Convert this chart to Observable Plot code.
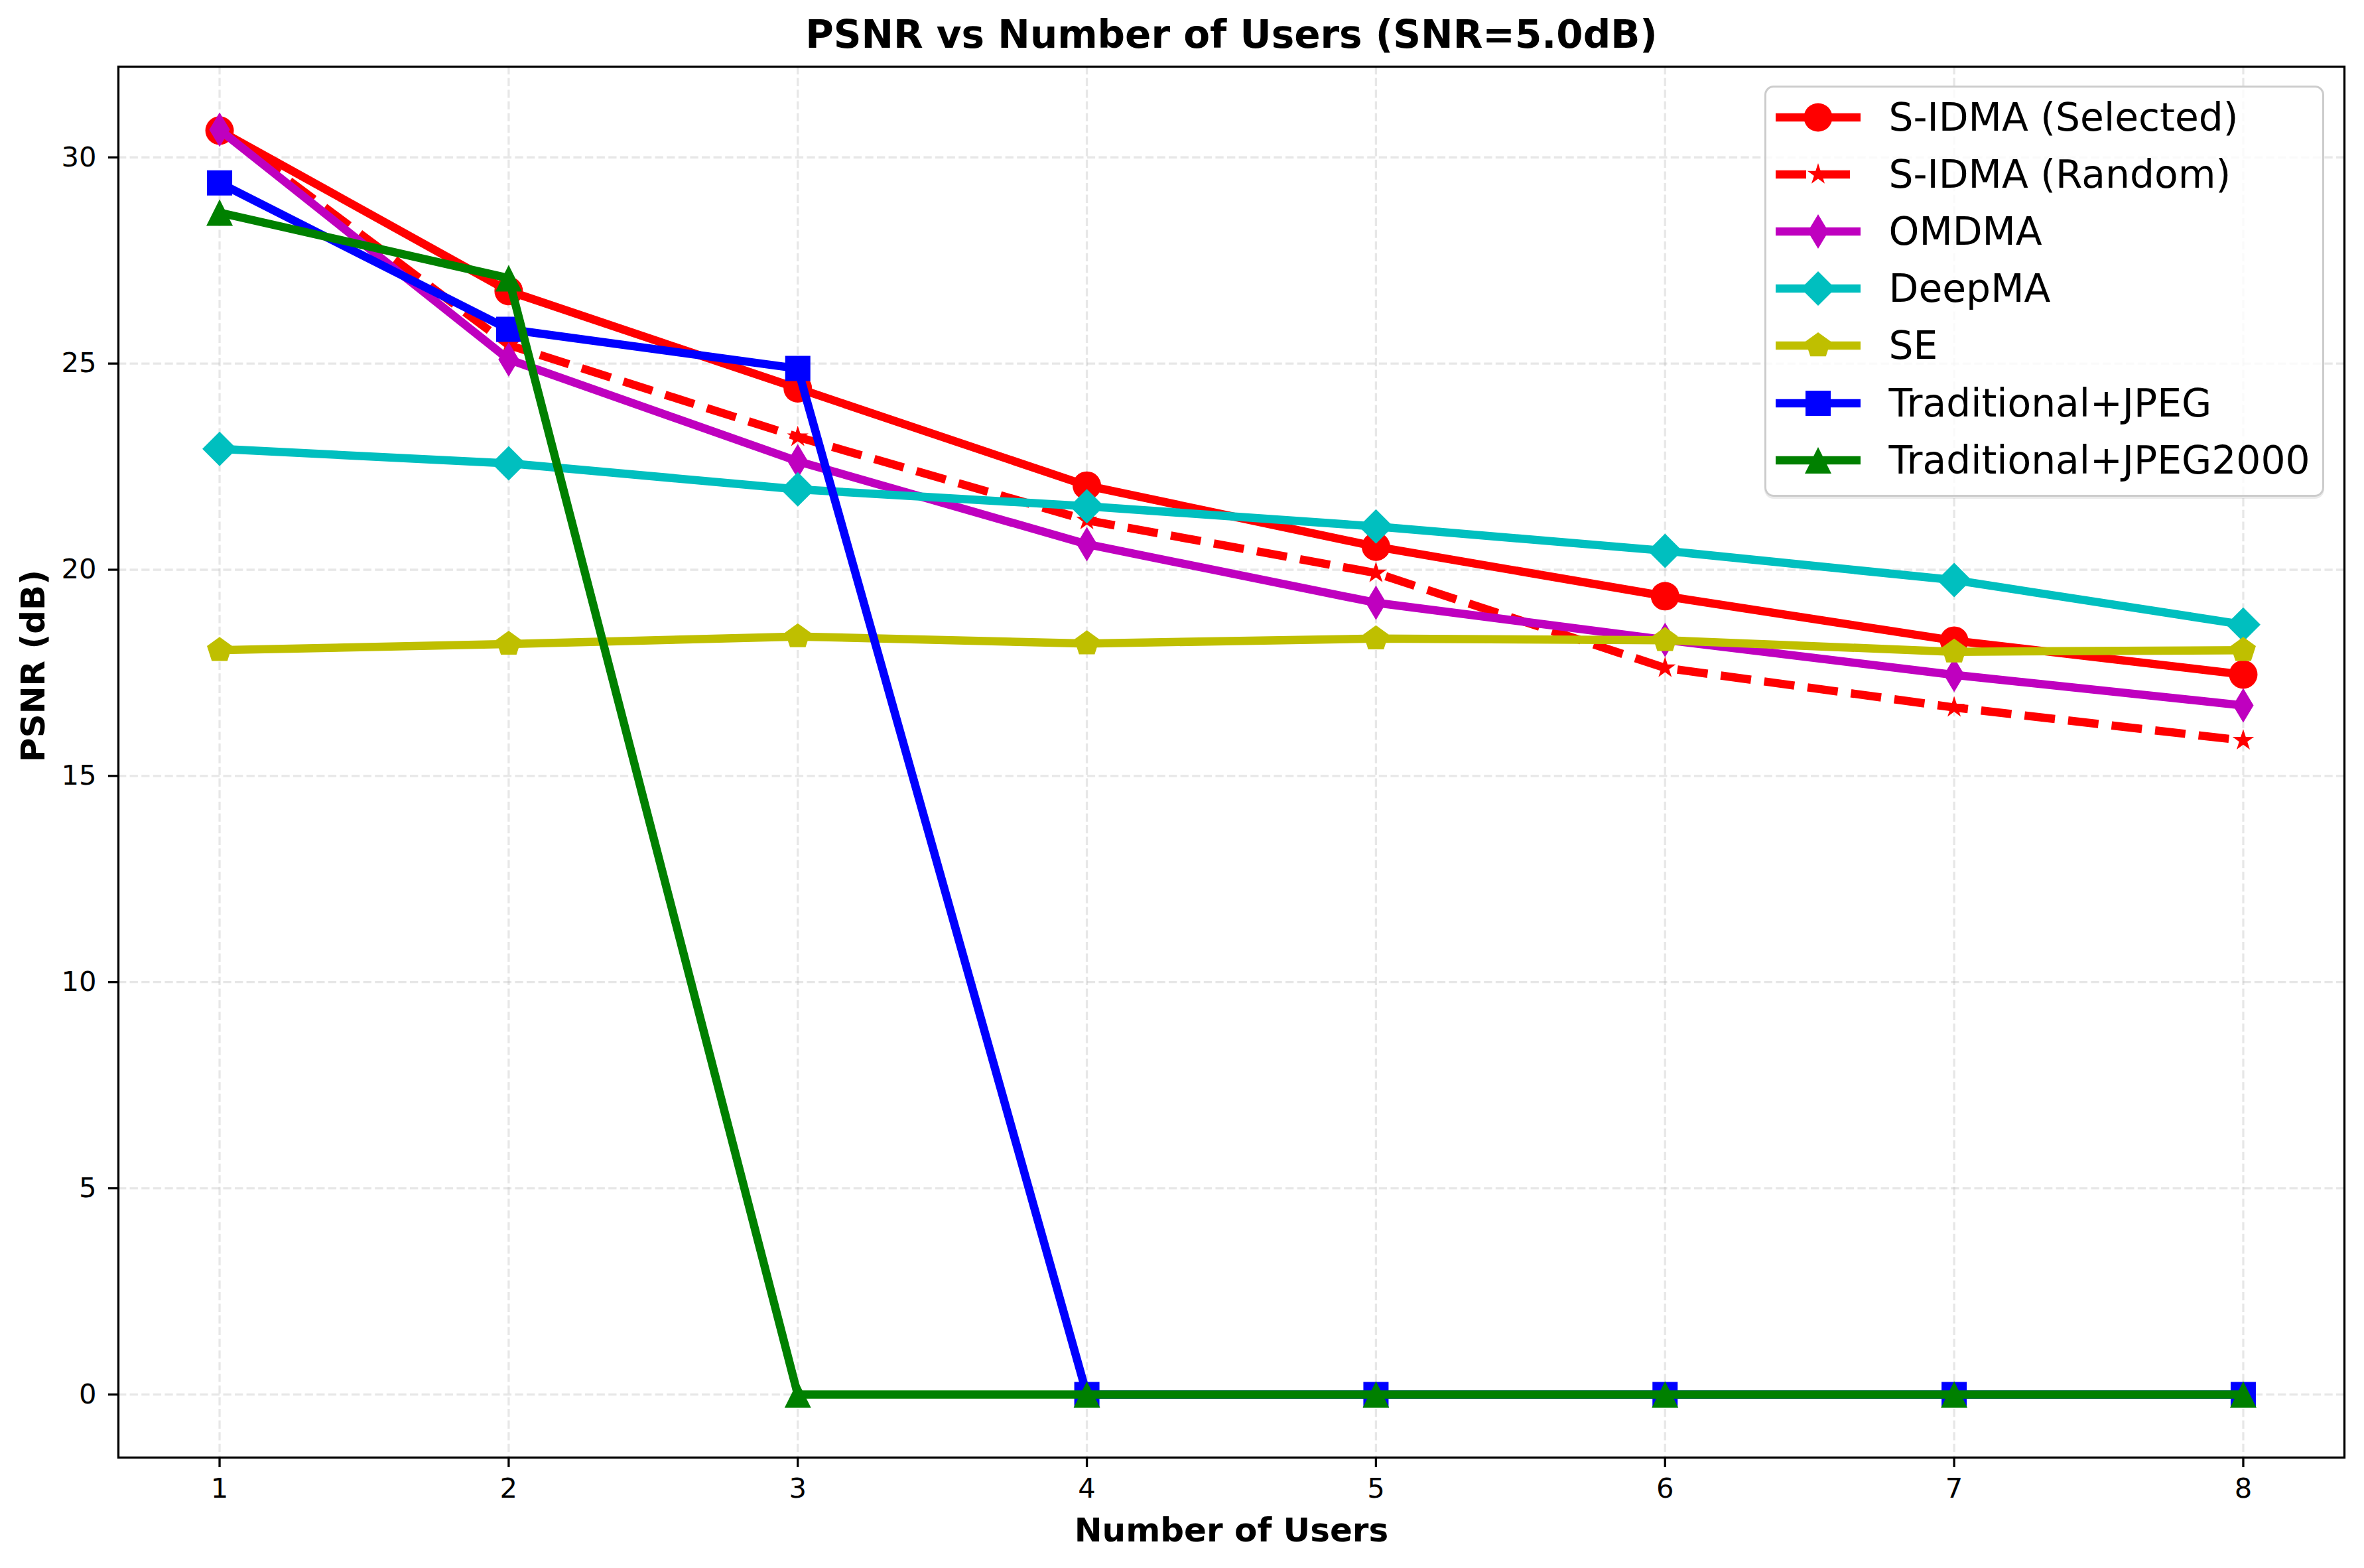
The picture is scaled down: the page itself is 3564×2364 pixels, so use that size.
<!DOCTYPE html>
<html>
<head>
<meta charset="utf-8">
<script src="https://cdn.jsdelivr.net/npm/d3@7"></script>
<script src="https://cdn.jsdelivr.net/npm/@observablehq/plot@0.6"></script>
<style>
  html, body { margin: 0; padding: 0; background: white; }
  #wrap { position: relative; width: 3564px; height: 2364px; font-family: "DejaVu Sans", sans-serif; }
  #legend { position: absolute; left: 2660px; top: 129px; width: 844px; height: 620px; box-sizing: border-box;
            border: 3.5px solid #cccccc; border-radius: 14px; background: rgba(255,255,255,0.8);
            box-shadow: 0 3px 0 rgba(0,0,0,0.08); }
  .row { position: absolute; left: 0; height: 86px; display: flex; align-items: center; }
  .row svg { position: absolute; left: 13.5px; top: 0; overflow: visible; }
  .row span { position: absolute; left: 184.5px; font-size: 58.3px; line-height: 86px; white-space: nowrap; color: black; top: 0; }
</style>
</head>
<body>
<div id="wrap"></div>
<script>
// ---- data ----
const users = [1, 2, 3, 4, 5, 6, 7, 8];
const sidmaSelected = [30.65, 26.76, 24.40, 22.04, 20.56, 19.36, 18.28, 17.46];
const sidmaRandom   = [30.70, 25.45, 23.22, 21.20, 19.92, 17.62, 16.66, 15.86];
const omdma         = [30.67, 25.10, 22.63, 20.62, 19.20, 18.30, 17.45, 16.71];
const deepma        = [22.93, 22.58, 21.95, 21.54, 21.05, 20.46, 19.75, 18.67];
const se            = [18.05, 18.20, 18.38, 18.21, 18.33, 18.29, 18.01, 18.05];
const tradJpeg      = [29.38, 25.83, 24.88, 0, 0, 0, 0, 0];
const tradJpeg2000  = [28.66, 27.07, 0, 0, 0, 0, 0, 0];
const seriesNames = ["S-IDMA (Selected)", "S-IDMA (Random)", "OMDMA", "DeepMA", "SE", "Traditional+JPEG", "Traditional+JPEG2000"];
const seriesValues = [sidmaSelected, sidmaRandom, omdma, deepma, se, tradJpeg, tradJpeg2000];
const yTicks = [0, 5, 10, 15, 20, 25, 30];

// ---- marker shapes (matplotlib-like) ----
function poly(ctx, pts) { ctx.moveTo(pts[0][0], pts[0][1]); for (let i = 1; i < pts.length; i++) ctx.lineTo(pts[i][0], pts[i][1]); ctx.closePath(); }
const rad = s => Math.sqrt(s / Math.PI);
const symCircle = { draw(ctx, s) { const R = rad(s); ctx.moveTo(R, 0); ctx.arc(0, 0, R, 0, 2 * Math.PI); ctx.closePath(); } };
const symStar = { draw(ctx, s) { const R = rad(s), r = 0.381966 * R, pts = [];
  for (let i = 0; i < 10; i++) { const a = -Math.PI / 2 + i * Math.PI / 5, q = i % 2 ? r : R; pts.push([q * Math.cos(a), q * Math.sin(a)]); } poly(ctx, pts); } };
const symThinDiamond = { draw(ctx, s) { const R = rad(s); poly(ctx, [[0, -R], [0.6 * R, 0], [0, R], [-0.6 * R, 0]]); } };
const symDiamond = { draw(ctx, s) { const R = rad(s); poly(ctx, [[0, -R], [R, 0], [0, R], [-R, 0]]); } };
const symPentagon = { draw(ctx, s) { const R = rad(s), pts = [];
  for (let i = 0; i < 5; i++) { const a = -Math.PI / 2 + i * 2 * Math.PI / 5; pts.push([R * Math.cos(a), R * Math.sin(a)]); } poly(ctx, pts); } };
const symSquare = { draw(ctx, s) { const R = rad(s); poly(ctx, [[-R, -R], [R, -R], [R, R], [-R, R]]); } };
const symTriangle = { draw(ctx, s) { const R = rad(s); poly(ctx, [[0, -R], [R, R], [-R, R]]); } };

// ---- styles ----
const styles = [
  { color: "#ff0000", dash: null,    symbol: symCircle,      r: 21.5 },
  { color: "#ff0000", dash: "46,20", symbol: symStar,        r: 17 },
  { color: "#bf00bf", dash: null,    symbol: symThinDiamond, r: 26 },
  { color: "#00bfbf", dash: null,    symbol: symDiamond,     r: 26 },
  { color: "#bfbf00", dash: null,    symbol: symPentagon,    r: 20 },
  { color: "#0000ff", dash: null,    symbol: symSquare,      r: 19 },
  { color: "#008000", dash: null,    symbol: symTriangle,    r: 20 }
];

const rows = [];
seriesNames.forEach((name, k) => users.forEach((u, i) => rows.push({ series: name, users: u, psnr: seriesValues[k][i] })));

const marks = [
  Plot.gridX({ ticks: users, stroke: "#b0b0b0", strokeOpacity: 0.3, strokeWidth: 3.3, strokeDasharray: "12.3,5.3" }),
  Plot.gridY({ ticks: yTicks, stroke: "#b0b0b0", strokeOpacity: 0.3, strokeWidth: 3.3, strokeDasharray: "12.3,5.3" })
];
seriesNames.forEach((name, k) => {
  const st = styles[k];
  const d = rows.filter(r => r.series === name);
  marks.push(Plot.line(d, { x: "users", y: "psnr", stroke: st.color, strokeWidth: 12.5,
    strokeDasharray: st.dash || undefined, strokeLinejoin: "round", strokeLinecap: st.dash ? "butt" : "square" }));
  marks.push(Plot.dot(d, { x: "users", y: "psnr", symbol: st.symbol, r: st.r, fill: st.color, stroke: null }));
});
marks.push(
  Plot.frame({ stroke: "black", strokeWidth: 3.3 }),
  Plot.axisX({ ticks: users, tickSize: 15, tickPadding: 16, fontSize: 41.7, strokeWidth: 3.3, label: null, tickFormat: d => String(d) }),
  Plot.axisY({ ticks: yTicks, tickSize: 15, tickPadding: 18, fontSize: 41.7, strokeWidth: 3.3, label: null, tickFormat: d => String(d) }),
  Plot.text(["PSNR vs Number of Users (SNR=5.0dB)"], { frameAnchor: "top", lineAnchor: "middle", dy: -47, fontSize: 58, fontWeight: "bold", fill: "black" }),
  Plot.text(["Number of Users"], { frameAnchor: "bottom", lineAnchor: "middle", dy: 110, fontSize: 50, fontWeight: "bold", fill: "black" }),
  Plot.text(["PSNR (dB)"], { frameAnchor: "left", lineAnchor: "middle", dx: -128, rotate: -90, fontSize: 50, fontWeight: "bold", fill: "black" })
);

const chart = Plot.plot({
  width: 3564, height: 2364,
  marginLeft: 178, marginRight: 30, marginTop: 100, marginBottom: 167,
  x: { domain: [0.65, 8.35] },
  y: { domain: [-1.53, 32.2] },
  style: { background: "white", fontFamily: "DejaVu Sans", overflow: "visible", color: "black" },
  marks
});
const wrap = document.getElementById("wrap");
wrap.appendChild(chart);

// ---- legend (HTML overlay) ----
const legend = document.createElement("div");
legend.id = "legend";
seriesNames.forEach((name, k) => {
  const st = styles[k];
  const row = document.createElement("div");
  row.className = "row";
  row.style.top = (48 - 3.5 - 43 + 86.2 * k) + "px";
  const svg = d3.create("svg").attr("width", 128).attr("height", 86);
  svg.append("line").attr("x1", 0).attr("x2", 128).attr("y1", 43).attr("y2", 43)
    .attr("stroke", st.color).attr("stroke-width", 12.5)
    .attr("stroke-dasharray", st.dash).attr("stroke-linecap", "butt");
  const p = d3.path();
  st.symbol.draw(p, st.r * st.r * Math.PI);
  svg.append("path").attr("d", p.toString()).attr("transform", "translate(64,43)").attr("fill", st.color);
  row.appendChild(svg.node());
  const t = document.createElement("span");
  t.textContent = name;
  row.appendChild(t);
  legend.appendChild(row);
});
wrap.appendChild(legend);
</script>
</body>
</html>
